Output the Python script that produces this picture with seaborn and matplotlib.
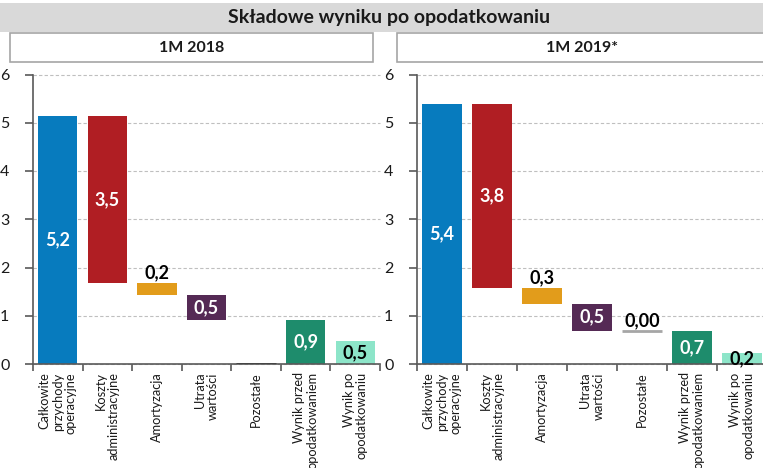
import numpy as np
import pandas as pd
import matplotlib
matplotlib.use("Agg")
import matplotlib.pyplot as plt
import seaborn as sns
from matplotlib.patches import Rectangle

categories = [
    "Całkowite\nprzychody\noperacyjne",
    "Koszty\nadministracyjne",
    "Amortyzacja",
    "Utrata\nwartości",
    "Pozostałe",
    "Wynik przed\nopodatkowaniem",
    "Wynik po\nopodatkowaniu",
]

# 1M 2018
heights_2018 = [5.14, 3.46, 0.25, 0.52, 0.00, 0.91, 0.48]
bottoms_2018 = [0.00, 1.68, 1.43, 0.91, 0.00, 0.00, 0.00]
labels_2018 = ["5,2", "3,5", "0,2", "0,5", "", "0,9", "0,5"]

# 1M 2019*
heights_2019 = [5.39, 3.81, 0.33, 0.56, 0.00, 0.69, 0.23]
bottoms_2019 = [0.00, 1.58, 1.25, 0.69, 0.69, 0.00, 0.00]
labels_2019 = ["5,4", "3,8", "0,3", "0,5", "0,00", "0,7", "0,2"]

title = "Składowe wyniku po opodatkowaniu"
panel_titles = ["1M 2018", "1M 2019*"]

# styles
bar_colors = ["#077BBE", "#B01E23", "#E29C1B", "#552A55", "#7F7F7F", "#1E8C6C", "#8DE5C9"]
label_colors = ["white", "white", "black", "white", "black", "white", "black"]
label_places = ["center", "center", "above", "center", "above", "center", "center"]
axis_grey = "#595959"

sns.set_style("ticks")
plt.rcParams["font.family"] = ["Lato", "DejaVu Sans"]

fig = plt.figure(figsize=(7.63, 4.68), dpi=100)


def draw_panel(ax, heights, bottoms, labels, zero_color):
    df = pd.DataFrame({"category": categories, "value": heights})
    palette = dict(zip(categories, bar_colors))
    sns.barplot(
        data=df, x="category", y="value", hue="category", palette=palette,
        width=0.79, linewidth=0, legend=False, ax=ax, saturation=1,
    )
    bars = sorted(ax.patches, key=lambda p: p.get_x())
    for bar, base, h, text, col, place in zip(
        bars, bottoms, heights, labels, label_colors, label_places
    ):
        bar.set_y(base)
        if h == 0:
            bar.set_edgecolor(zero_color)
            bar.set_linewidth(2)
            bar.set_zorder(4)
        cx = bar.get_x() + bar.get_width() / 2
        if place == "center":
            ax.text(cx, base + h / 2, text, ha="center", va="center",
                    color=col, fontsize=13, fontweight="bold", zorder=5)
        else:
            ax.text(cx, base + h + 0.03, text, ha="center", va="bottom",
                    color=col, fontsize=13, fontweight="bold", zorder=5)

    ax.set_xlim(-0.5, 6.5)
    ax.set_ylim(0, 6)
    ax.set_yticks(range(7))
    ax.set_axisbelow(True)
    ax.yaxis.grid(True, color="#BFBFBF", linestyle=(0, (3, 2)), linewidth=0.8, clip_on=False)
    ax.set_xlabel("")
    ax.set_ylabel("")
    sns.despine(ax=ax)
    for side in ["left", "bottom"]:
        ax.spines[side].set_color(axis_grey)
        ax.spines[side].set_linewidth(1.2)
    ax.set_xticks(np.arange(-0.5, 7, 1), minor=True)
    ax.tick_params(axis="x", which="major", length=0, pad=6, labelsize=9.2,
                   labelrotation=90, labelcolor="#1A1A1A")
    ax.tick_params(axis="x", which="minor", length=5, width=1.2, color=axis_grey)
    ax.tick_params(axis="y", length=6, width=1.2, pad=11, labelsize=11.5,
                   color=axis_grey, labelcolor="#1A1A1A")
    for lbl in ax.get_xticklabels():
        lbl.set_multialignment("right")
        lbl.set_linespacing(1.12)


ax1 = fig.add_axes([33 / 763, 1 - 364 / 468, 347 / 763, 289.5 / 468])
ax2 = fig.add_axes([417 / 763, 1 - 364 / 468, 350 / 763, 289.5 / 468])
draw_panel(ax1, heights_2018, bottoms_2018, labels_2018, "#404040")
draw_panel(ax2, heights_2019, bottoms_2019, labels_2019, "#A6A6A6")

# header band and panel boxes
fig.patches.append(Rectangle((0, 1 - 32 / 468), 1, 29 / 468, transform=fig.transFigure,
                             facecolor="#D9D9D9", edgecolor="none", zorder=0))
fig.text(389 / 763, 1 - 18 / 468, title, ha="center", va="center",
         fontsize=14, fontweight="bold", color="#1A1A1A")
box_spans = [(10, 373), (397, 770)]
for (x0, x1), name in zip(box_spans, panel_titles):
    fig.patches.append(Rectangle((x0 / 763, 1 - 62 / 468), (x1 - x0) / 763, 29 / 468,
                                 transform=fig.transFigure, facecolor="white",
                                 edgecolor="#A6A6A6", linewidth=1.2, zorder=0))
    fig.text((x0 + min(x1, 767)) / 2 / 763, 1 - 48 / 468, name, ha="center", va="center",
             fontsize=11.5, fontweight="bold", color="#1A1A1A")

fig.savefig("out.png", dpi=100)
